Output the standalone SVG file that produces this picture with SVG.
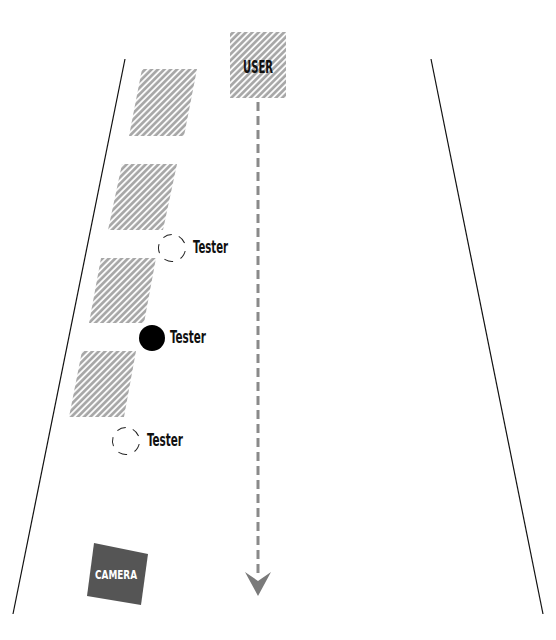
<svg xmlns="http://www.w3.org/2000/svg" width="556" height="640" viewBox="0 0 556 640">
<style>
.edge{stroke:#111;stroke-width:1.2;fill:none}
.hatch{fill:url(#stripes)}
.lbl{font-family:"DejaVu Sans Condensed","DejaVu Sans",sans-serif;font-weight:bold;fill:#111}
.dash{fill:none;stroke:#222;stroke-width:1;stroke-dasharray:9 8}
.flow{stroke:#8a8a8a;stroke-width:3;stroke-dasharray:9 5;fill:none}
</style>
<defs>
<pattern id="stripes" width="4.5" height="4.5" patternUnits="userSpaceOnUse" patternTransform="rotate(45)">
<rect width="4.5" height="4.5" fill="#a6a6a6"/>
<line x1="1" y1="0" x2="1" y2="4.5" stroke="#fff" stroke-width="1.8"/>
</pattern>
</defs>
<rect width="556" height="640" fill="#fff"/>
<g id="road">
<line class="edge" x1="125" y1="59" x2="13" y2="614"/>
<line class="edge" x1="431" y1="59" x2="543" y2="614"/>
</g>
<g id="blocks">
<polygon class="hatch" points="142,69 197,69 184,136 129,136"/>
<polygon class="hatch" points="122,164 177,164 163,230 108,230"/>
<polygon class="hatch" points="101,258 156,258 144,323 89,323"/>
<polygon class="hatch" points="82,351 136,351 124,417 69,417"/>
</g>
<g id="connectors">
<line class="flow" x1="258" y1="102" x2="258" y2="578"/>
<path d="M245,572 L258,581 L271,572 L258,596 Z" fill="#7a7a7a"/>
</g>
<g id="user">
<rect x="230" y="32" width="56" height="66" class="hatch"/>
<text class="lbl" x="258" y="73" font-size="17" text-anchor="middle" textLength="30" lengthAdjust="spacingAndGlyphs">USER</text>
</g>
<g id="tester1">
<circle class="dash" cx="172" cy="248" r="13.5" transform="rotate(-60 172 248)"/>
<text class="lbl" x="193" y="253" font-size="17" textLength="35" lengthAdjust="spacingAndGlyphs">Tester</text>
</g>
<g id="tester2">
<circle cx="152" cy="338" r="13" fill="#000"/>
<text class="lbl" x="170" y="343" font-size="17" textLength="36" lengthAdjust="spacingAndGlyphs">Tester</text>
</g>
<g id="tester3">
<circle class="dash" cx="126" cy="441" r="13.5" transform="rotate(-60 126 441)"/>
<text class="lbl" x="147" y="446" font-size="17" textLength="36" lengthAdjust="spacingAndGlyphs">Tester</text>
</g>
<g id="camera">
<polygon points="94,543 148,554 141,605 87,596" fill="#555"/>
<text x="116" y="579" font-size="13" text-anchor="middle" textLength="42" lengthAdjust="spacingAndGlyphs" style="font-family:'DejaVu Sans Condensed','DejaVu Sans',sans-serif;font-weight:bold;fill:#fff">CAMERA</text>
</g>
</svg>
